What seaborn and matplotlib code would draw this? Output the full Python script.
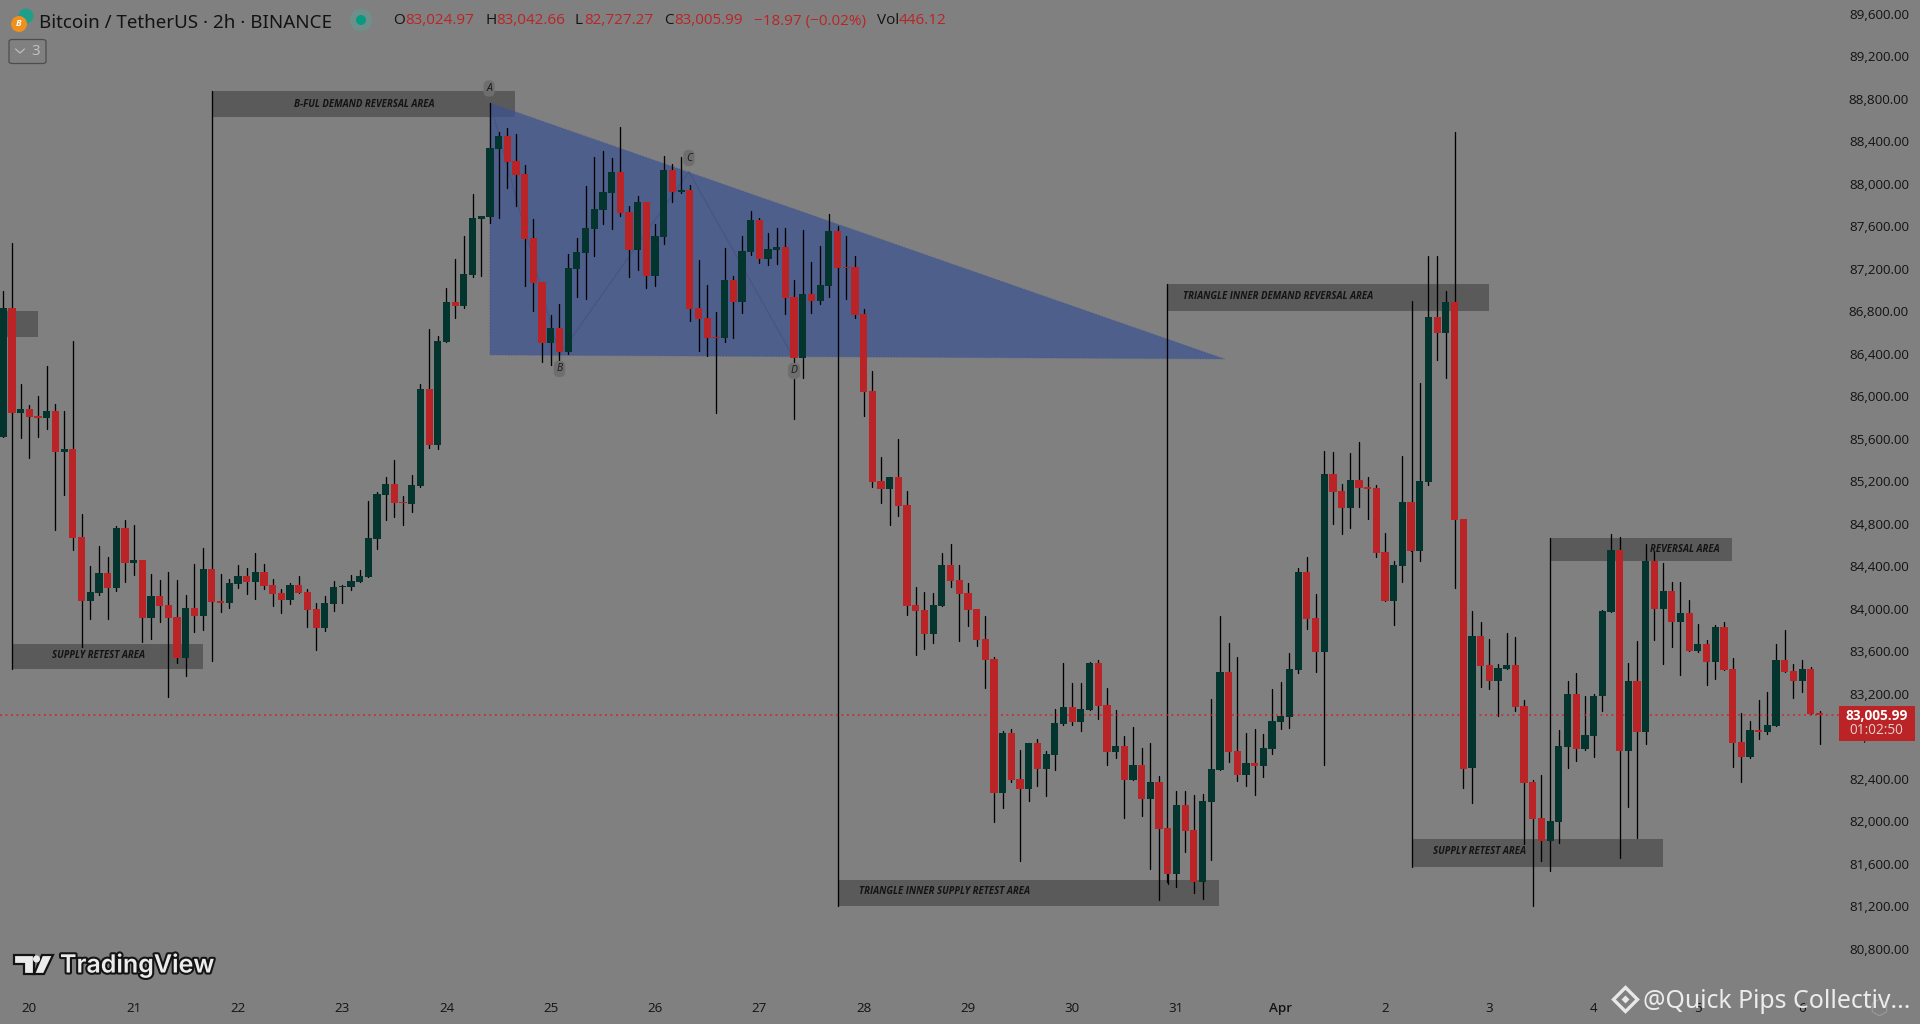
import numpy as np
import pandas as pd
import seaborn as sns
from matplotlib import pyplot as plt
from matplotlib import patheffects as pe
from matplotlib.patches import Ellipse, FancyBboxPatch, Polygon, Rectangle

# 2h candles, values
opens = [
    85621, 86832, 85847, 85882, 85816, 85797, 85863, 85480, 85505, 84677, 84078, 84150,
    84338, 84200, 84762, 84435, 84460, 83918, 84122, 84037, 83924, 83541, 84009, 83937,
    84376, 84075, 84056, 84235, 84310, 84253, 84348, 84225, 84150, 84084, 84225, 84159,
    84000, 83821, 84046, 84206, 84206, 84253, 84301, 84658, 85072, 85176, 85006, 84988,
    85157, 86070, 85543, 86515, 86888, 86850, 87142, 87669, 87688, 88328, 88450, 88215,
    88092, 87490, 87076, 86502, 86643, 86417, 87198, 87349, 87575, 87754, 87914, 88111,
    87735, 87377, 87829, 87133, 87500, 88130, 87923, 87942, 86831, 86737, 86558, 86549,
    87095, 86888, 87358, 87660, 87293, 87377, 87405, 86935, 86361, 86963, 86897, 87038,
    87556, 87218, 87218, 86775, 86050, 85204, 85128, 85241, 84978, 84037, 83990, 83764,
    84027, 84413, 84272, 84150, 84000, 83717, 83528, 82268, 82833, 82400, 82306, 82739,
    82494, 82626, 82917, 83077, 82936, 83049, 83492, 83096, 82654, 82710, 82390, 82532,
    82212, 82372, 81939, 81506, 82155, 81920, 81431, 82183, 82485, 83407, 82663, 82437,
    82550, 82522, 82682, 82936, 82983, 83425, 84347, 83914, 83595, 85269, 85110, 84950,
    85213, 85147, 85138, 84535, 84074, 84404, 85006, 84545, 85194, 86747, 86596, 86888,
    84846, 82503, 83748, 83475, 83325, 83438, 83475, 83083, 82368, 82029, 81816, 81991,
    82697, 83202, 82678, 82801, 83177, 83974, 84554, 82660, 83325, 82838, 84451, 83996,
    84172, 83874, 83965, 83607, 83673, 83504, 83833, 83438, 82744, 82603, 82857, 82838,
    82895, 83522, 83419, 83325, 83438, 83025,
]
highs = [
    86992, 86832, 86117, 85919, 86004, 86286, 85929, 85863, 86522, 84893, 84404, 84592,
    84489, 84781, 84837, 84790, 84460, 84329, 84272, 84348, 84272, 84131, 84423, 84573,
    84376, 84329, 84282, 84413, 84385, 84526, 84423, 84282, 84188, 84244, 84310, 84188,
    84056, 84122, 84263, 84225, 84319, 84366, 85016, 85101, 85242, 85402, 85063, 85261,
    86117, 86634, 86568, 87020, 87293, 87509, 87904, 87697, 88757, 88488, 88525, 88469,
    88177, 87669, 87076, 86766, 86869, 87340, 87490, 87980, 88252, 88309, 88243, 88535,
    87791, 87885, 87829, 87622, 88262, 88187, 88252, 87989, 87283, 87048, 86794, 87396,
    87133, 87509, 87744, 87678, 87537, 87584, 87584, 87095, 87565, 87264, 87415, 87716,
    87556, 87509, 87321, 86822, 86238, 85430, 85241, 85599, 85110, 84206, 84159, 84150,
    84526, 84611, 84413, 84244, 84000, 83933, 83547, 82852, 82870, 82673, 82739, 82776,
    82663, 83059, 83492, 83303, 83303, 83501, 83520, 83256, 83049, 82805, 82889, 82692,
    82739, 82428, 81939, 82287, 82287, 82249, 82259, 83153, 83933, 83679, 83547, 82833,
    82870, 82823, 83247, 83313, 83586, 84385, 84488, 84140, 85486, 85476, 85175, 85467,
    85571, 85241, 85166, 84714, 84451, 85439, 85006, 86126, 87321, 87321, 86992, 88488,
    84846, 83984, 83880, 83720, 83485, 83776, 83739, 83140, 82393, 82434, 82001, 82860,
    83325, 83400, 83177, 83202, 83993, 84705, 84677, 83494, 83701, 84611, 84545, 84429,
    84256, 84256, 84087, 83861, 83711, 83852, 83880, 83541, 83017, 82942, 83140, 83221,
    83673, 83805, 83485, 83522, 83457, 83043,
]
lows = [
    85621, 85847, 85612, 85424, 85621, 85697, 84746, 85075, 84558, 83645, 83908, 84131,
    83908, 84172, 84257, 84323, 83692, 83720, 83880, 83171, 83494, 83369, 83783, 83802,
    84068, 83971, 84009, 84197, 84141, 84093, 84188, 84028, 83962, 84046, 84150, 83830,
    83614, 83792, 83981, 84056, 84178, 84253, 84301, 84564, 84837, 84865, 84790, 84912,
    85148, 85515, 85505, 86515, 86737, 86831, 87123, 87133, 87631, 87678, 87961, 87791,
    87038, 86803, 86323, 86295, 86323, 86398, 86935, 86916, 87321, 87622, 87575, 87697,
    87123, 87189, 87020, 87038, 87434, 87829, 87914, 86709, 86427, 86380, 85843, 86511,
    86549, 86784, 87330, 87255, 87236, 87245, 86775, 85787, 86173, 86784, 86869, 86935,
    87208, 86916, 86737, 85815, 85147, 84997, 84790, 84874, 83943, 83566, 83623, 83679,
    84027, 84206, 83698, 83839, 83651, 83256, 81995, 82127, 82372, 81628, 82193, 82334,
    82240, 82484, 82908, 82908, 82852, 83049, 82965, 82532, 82597, 82033, 82390, 82052,
    81553, 81261, 81412, 81383, 81713, 81327, 81270, 81638, 82485, 82560, 82381, 82334,
    82249, 82419, 82635, 82870, 82880, 83397, 83811, 83406, 82532, 84799, 84705, 84761,
    84959, 84846, 84488, 84074, 83849, 84253, 84545, 84451, 85166, 86342, 86173, 84197,
    82315, 82173, 83268, 83249, 82995, 83438, 83042, 81787, 81204, 81628, 81816, 81797,
    82500, 82566, 82669, 82603, 83036, 83974, 81656, 82136, 81844, 82726, 83711, 83485,
    83638, 83381, 83607, 83598, 83287, 83344, 83428, 82509, 82368, 82594, 82773, 82820,
    82895, 83409, 83158, 83221, 83008, 82727,
]
closes = [
    86832, 85847, 85882, 85806, 85797, 85863, 85480, 85505, 84671, 84078, 84159, 84338,
    84200, 84762, 84435, 84460, 83918, 84122, 84031, 83918, 83541, 84009, 83937, 84376,
    84068, 84056, 84244, 84310, 84253, 84348, 84216, 84141, 84084, 84225, 84150, 83990,
    83821, 84056, 84206, 84216, 84263, 84310, 84668, 85082, 85176, 84997, 84997, 85166,
    86070, 85543, 86521, 86888, 86850, 87151, 87678, 87697, 88337, 88450, 88205, 88083,
    87481, 87067, 86502, 86643, 86417, 87208, 87358, 87584, 87763, 87923, 88111, 87725,
    87377, 87829, 87133, 87509, 88130, 87923, 87942, 86822, 86728, 86549, 86549, 87095,
    86888, 87368, 87660, 87293, 87387, 87405, 86925, 86361, 86963, 86897, 87048, 87556,
    87208, 87208, 86765, 86041, 85197, 85128, 85241, 84968, 84027, 83980, 83764, 84037,
    84413, 84263, 84140, 83990, 83707, 83519, 82268, 82833, 82390, 82306, 82739, 82494,
    82635, 82927, 83077, 82936, 83059, 83492, 83087, 82654, 82710, 82390, 82532, 82212,
    82372, 81929, 81506, 82155, 81910, 81431, 82193, 82494, 83407, 82654, 82437, 82550,
    82522, 82692, 82946, 82993, 83435, 84347, 83905, 83594, 85269, 85100, 84950, 85213,
    85138, 85128, 84526, 84074, 84413, 85006, 84545, 85204, 86747, 86596, 86888, 84837,
    82494, 83748, 83466, 83325, 83447, 83475, 83074, 82362, 82023, 81816, 82001, 82707,
    83202, 82678, 82810, 83184, 83984, 84554, 82660, 83325, 82838, 84451, 83996, 84172,
    83874, 83965, 83607, 83673, 83504, 83833, 83428, 82735, 82603, 82857, 82838, 82904,
    83522, 83409, 83325, 83438, 83008, 83006,
]

price_ticks = list(range(80800, 89601, 400))
day_ticks = list(range(3, 208, 12))
day_labels = ["20", "21", "22", "23", "24", "25", "26", "27", "28", "29", "30", "31",
              "Apr", "2", "3", "4", "5", "6"]
last_price = 83005.99

# supply/demand boxes: left bar, right bar, bottom price, top price
zone_left = [-0.38, 1.04, 24.0, 133.95, 96.05, 162.07, 178.0]
zone_right = [4.0, 22.98, 58.94, 170.97, 139.9, 190.99, 198.9]
zone_low = [86562, 83435, 88632, 86804, 81207, 81572, 84454]
zone_high = [86804, 83670, 88874, 87058, 81449, 81835, 84668]

# the vertical leg of each box
leg_bar = [1.04, 24.0, 133.95, 96.05, 162.07, 178.0]
leg_low = [83435, 83513, 81430, 81207, 81572, 81537]
leg_high = [87443, 88874, 87058, 87603, 86898, 84668]

zone_texts = ["SUPPLY RETEST AREA", "B-FUL DEMAND REVERSAL AREA", "TRIANGLE INNER DEMAND REVERSAL AREA",
              "TRIANGLE INNER SUPPLY RETEST AREA", "SUPPLY RETEST AREA", "REVERSAL AREA"]
zone_text_bar = [11.0, 41.5, 146.7, 108.3, 169.9, 193.5]
zone_text_price = [83560, 88751, 86938, 81341, 81713, 84557]

# triangle and its ABCD swing
tri_bar = [56.0, 140.5, 56.0]
tri_price = [88761, 86352, 86390]
swing_bar = [56.0, 64.0, 78.9, 90.9]
swing_price = [88761, 86390, 88114, 86371]
swing_names = ["A", "B", "C", "D"]
swing_name_bar = [55.9, 64.0, 78.9, 91.0]
swing_name_price = [88897, 86258, 88243, 86239]

BG = "#808080"
GREEN = "#03352e"
RED = "#bb2426"
ZONE = "#5a5a5a"
INK = "#131313"

sns.set_theme(style="white", rc={"figure.facecolor": BG, "axes.facecolor": BG})
plt.rcParams["font.family"] = ["Open Sans", "DejaVu Sans"]

fig = plt.figure(figsize=(19.2, 10.24), dpi=100)
ax = fig.add_axes([0, 0, 1, 1])
ax.set_axisbelow(True)


def fx(x, y):
    # pixel position on the screenshot to figure fraction, for the chrome only
    return x / 1920, 1 - y / 1024


def round_dot(x, y, radius, color, zorder):
    fig.add_artist(Ellipse(fx(x, y), 2 * radius / 1920, 2 * radius / 1024, transform=fig.transFigure,
                           fc=color, ec="none", zorder=zorder))


bars = np.arange(len(closes))
o, c = np.array(opens), np.array(closes)

# zones sit under everything else
for left, right, low, high in zip(zone_left, zone_right, zone_low, zone_high):
    ax.add_patch(Rectangle((left, low), right - left, high - low, fc=ZONE, ec="none", zorder=1))

ax.fill(tri_bar, tri_price, fc="#3b5191", ec="#46588f", alpha=0.7, lw=0.8, ls=":", zorder=1.5)
sns.lineplot(x=swing_bar, y=swing_price, sort=False, color="#465580", lw=0.8, ax=ax, zorder=1.7)

wicks = pd.DataFrame({
    "bar": np.r_[bars, bars],
    "price": np.r_[lows, highs],
})
sns.lineplot(data=wicks, x="bar", y="price", units="bar", estimator=None, color="black",
             lw=0.95, ax=ax, zorder=2, legend=False)

legs = pd.DataFrame({
    "bar": leg_bar * 2,
    "leg": list(range(len(leg_bar))) * 2,
    "price": leg_low + leg_high,
})
sns.lineplot(data=legs, x="bar", y="price", units="leg", estimator=None, color="black",
             lw=0.95, ax=ax, zorder=2.1, legend=False)

colors = [GREEN if up else RED for up in c >= o]
ax.bar(bars, np.abs(c - o), bottom=np.minimum(o, c), width=0.83, color=colors, lw=0, zorder=3)

ax.hlines(last_price, -0.38, 211.2, color="#d0222a", lw=1.1, linestyles=(0, (1.2, 2.4)), zorder=2.5)

for name, b, p in zip(zone_texts, zone_text_bar, zone_text_price):
    ax.text(b, p, name, ha="center", va="center", fontsize=6.9, style="italic",
            fontweight="bold", color="#141414", zorder=4)
for name, b, p in zip(swing_names, swing_name_bar, swing_name_price):
    ax.text(b, p, name, ha="center", va="center", fontsize=7.5, style="italic", color="#1a1a1a",
            zorder=4, bbox=dict(boxstyle="round,pad=0.25,rounding_size=0.5", fc="#6e6e6e", ec="none"))

ax.set_xlim(-0.38, 220.56)
ax.set_ylim(80094, 89730)
ax.set_xticks(day_ticks, day_labels)
ax.set_yticks(price_ticks, [f"{p:,.2f}" for p in price_ticks])
ax.yaxis.tick_right()
ax.tick_params(axis="y", length=0, pad=-8, labelsize=9.6, labelcolor=INK)
ax.tick_params(axis="x", length=0, pad=-16, labelsize=9.6, labelcolor=INK)
for label in ax.get_yticklabels():
    label.set_ha("right")
for label in ax.get_xticklabels():
    if label.get_text() == "Apr":
        label.set_fontweight("semibold")
sns.despine(ax=ax, left=True, right=True, top=True, bottom=True)
ax.grid(False)
ax.set_xlabel("")
ax.set_ylabel("")

# last price tag
fig.add_artist(Rectangle(fx(1839, 741), 76 / 1920, 35 / 1024, transform=fig.transFigure,
                         fc=RED, ec="none", zorder=5))
fig.text(*fx(1877, 716), f"{last_price:,.2f}", ha="center", va="center", color="white",
         fontsize=9.8, fontweight="bold", zorder=6)
fig.text(*fx(1876, 731), "01:02:50", ha="center", va="center", color="#e4d0d0", fontsize=9.8, zorder=6)

# header
round_dot(26, 16, 7.5, "#1f9e8a", 5)
round_dot(19, 24, 8, "#f08f1c", 6)
fig.text(*fx(19, 24), "B", ha="center", va="center", color="white", fontsize=6.5, fontweight="bold",
         style="italic", zorder=7)
fig.text(*fx(39, 23), "Bitcoin / TetherUS · 2h · BINANCE", ha="left", va="center", color=INK,
         fontsize=13.5, family=["Noto Sans", "DejaVu Sans"])
round_dot(361, 20, 11, "#6f8f8b", 5)
round_dot(361, 20, 5, "#079a83", 6)

head_pieces = [
    (393, "O", INK), (405, "83,024.97", RED), (485, "H", INK), (496, "83,042.66", RED),
    (575, "L", INK), (584, "82,727.27", RED), (664, "C", INK), (674, "83,005.99", RED),
    (754, "−18.97 (−0.02%)", RED), (877, "Vol", INK), (899, "446.12", RED),
]
for x, text, color in head_pieces:
    fig.text(*fx(x, 21), text, ha="left", va="center", color=color, fontsize=11.0)

fig.add_artist(FancyBboxPatch(fx(9, 63.5), 37 / 1920, 24 / 1024, boxstyle="round,pad=0,rounding_size=0.002",
                              transform=fig.transFigure, fc="none", ec="#4d4d4d", lw=0.9, zorder=5))
fig.add_artist(plt.Line2D([15.5 / 1920, 20 / 1920, 24.5 / 1920], [1 - 49 / 1024, 1 - 53 / 1024, 1 - 49 / 1024],
                          color="#bdbdbd", lw=0.9, zorder=6))
fig.text(*fx(36, 51.5), "3", ha="center", va="center", color="#c4c4c4", fontsize=11)

# TradingView mark
outline = [pe.withStroke(linewidth=3.0, foreground="#141414")]
t_bar = Polygon([fx(14, 955), fx(34, 955), fx(34, 974), fx(24, 974), fx(24, 964), fx(14, 964)],
                closed=True, transform=fig.transFigure, fc="#ececec", ec="#141414", lw=1.6, zorder=6)
slash = Polygon([fx(42, 955), fx(53, 955), fx(44, 974), fx(34, 974)], closed=True,
                transform=fig.transFigure, fc="#ececec", ec="#141414", lw=1.6, zorder=6)
fig.add_artist(t_bar)
fig.add_artist(slash)
round_dot(36.5, 959, 3.5, "#ececec", 7)
fig.text(*fx(60, 965), "TradingView", ha="left", va="center", color="#ececec", fontsize=18,
         fontweight="semibold", family=["Inter", "DejaVu Sans"], path_effects=outline, zorder=7)

# repost watermark
fig.add_artist(plt.Line2D([1625 / 1920], [1 - 999 / 1024], marker="D", markersize=12.5, mfc="none",
                          mec="#e8e8e8", mew=2.4, zorder=7))
fig.add_artist(plt.Line2D([1625 / 1920], [1 - 999 / 1024], marker="D", markersize=4.2, mfc="#e8e8e8",
                          mec="none", zorder=7))
fig.text(*fx(1643, 1002), "@Quick Pips Collectiv...", ha="left", va="center", color="#ececec", fontsize=17.9,
         family=["Noto Sans", "DejaVu Sans"], zorder=7)
fig.add_artist(plt.Line2D([1879 / 1920], [1 - 1007 / 1024], marker="h", markersize=12, mfc="none",
                          mec="#9a9a9a", mew=0.8, zorder=7))

fig.savefig("out.png", dpi=100, facecolor=BG)
